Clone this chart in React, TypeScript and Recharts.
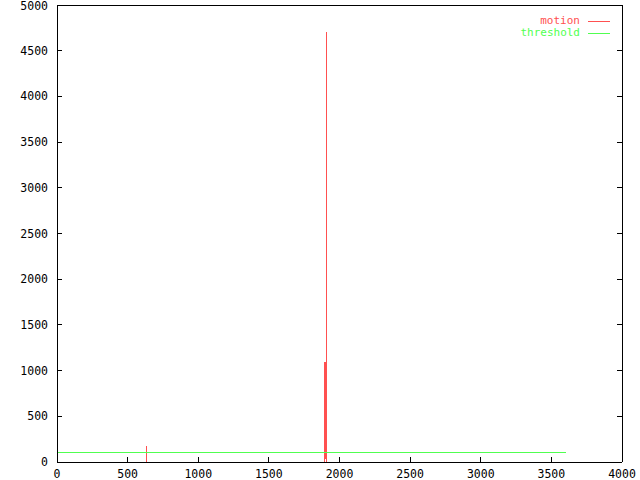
import { LineChart, Line, XAxis, YAxis } from "recharts";

// motion samples (frame time vs. motion level)
const motionTime = [0, 637, 637, 637, 1897, 1897, 1900, 1900, 1904, 1904, 1908, 1911, 1911, 1911, 3600];
const motionValue = [0, 0, 175, 0, 0, 1090, 30, 1090, 50, 1090, 0, 0, 4700, 0, 0];

const thresholdTime = [0, 3600];
const thresholdValue = [100, 100];

const xTicks = [0, 500, 1000, 1500, 2000, 2500, 3000, 3500, 4000];
const yTicks = [0, 500, 1000, 1500, 2000, 2500, 3000, 3500, 4000, 4500, 5000];

const seriesNames = ["motion", "threshold"];
const seriesColors = ["#ff5050", "#50ff50"];

const motionData = motionTime.map((t, i) => ({ t, v: motionValue[i] }));
const thresholdData = thresholdTime.map((t, i) => ({ t, v: thresholdValue[i] }));

const FONT = "'DejaVu Sans Mono', monospace";

// gnuplot-style key in the top right corner
function GnuLegend() {
  return (
    <div
      style={{
        position: "absolute",
        top: 15,
        right: 30,
        fontFamily: FONT,
        fontSize: 11,
        lineHeight: "12px",
      }}
    >
      {seriesNames.map((name, i) => (
        <div key={name} style={{ display: "flex", alignItems: "center", justifyContent: "flex-end", height: 12 }}>
          <span style={{ color: seriesColors[i] }}>{name}</span>
          <svg width={30} height={12} style={{ display: "block" }}>
            <line
              x1={8}
              x2={30}
              y1={6}
              y2={6}
              stroke={seriesColors[i]}
              strokeWidth={1}
              shapeRendering="crispEdges"
            />
          </svg>
        </div>
      ))}
    </div>
  );
}

const noTick = () => <g />;

export default function App() {
  return (
    <div style={{ position: "absolute", left: 0, top: 0, width: 640, height: 480, background: "#fff" }}>
      <style>{`.recharts-surface path, .recharts-surface line { shape-rendering: crispEdges; }`}</style>
      <LineChart
        width={640}
        height={480}
        margin={{ top: 4, right: 17, left: 0, bottom: 0 }}
      >
        <XAxis
          xAxisId="b"
          dataKey="t"
          type="number"
          domain={[0, 4000]}
          ticks={xTicks}
          allowDataOverflow
          height={18}
          tickSize={-5}
          tickMargin={13}
          stroke="#000"
          tick={{ fill: "#000", fontFamily: FONT, fontSize: 11.5 }}
        />
        <XAxis
          xAxisId="top"
          orientation="top"
          type="number"
          domain={[0, 4000]}
          ticks={xTicks}
          allowDataOverflow
          height={1}
          tickSize={-5}
          stroke="#000"
          tick={noTick}
        />
        <YAxis
          yAxisId="l"
          type="number"
          domain={[0, 5000]}
          ticks={yTicks}
          allowDataOverflow
          width={57}
          tickSize={-5}
          tickMargin={14}
          stroke="#000"
          tick={{ fill: "#000", fontFamily: FONT, fontSize: 11.5 }}
        />
        <YAxis
          yAxisId="r"
          orientation="right"
          type="number"
          domain={[0, 5000]}
          ticks={yTicks}
          allowDataOverflow
          width={1}
          tickSize={-5}
          stroke="#000"
          tick={noTick}
        />
        <Line
          xAxisId="b"
          yAxisId="l"
          data={motionData}
          dataKey="v"
          name={seriesNames[0]}
          stroke={seriesColors[0]}
          strokeWidth={1}
          dot={false}
          activeDot={false}
          type="linear"
          isAnimationActive={false}
        />
        <Line
          xAxisId="b"
          yAxisId="l"
          data={thresholdData}
          dataKey="v"
          name={seriesNames[1]}
          stroke={seriesColors[1]}
          strokeWidth={1}
          dot={false}
          activeDot={false}
          type="linear"
          isAnimationActive={false}
        />
      </LineChart>
      <GnuLegend />
    </div>
  );
}
